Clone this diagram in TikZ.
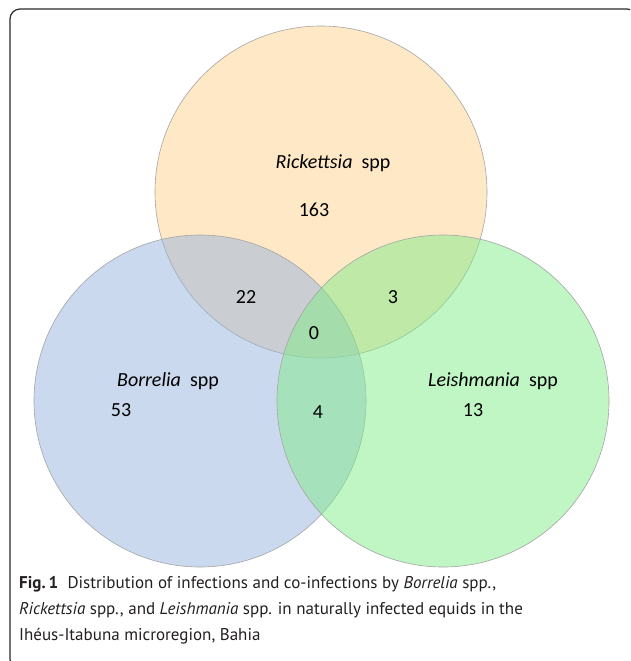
\documentclass[tikz,border=0pt]{standalone}
\usepackage{fontspec}
\setmainfont{Carlito}
\newfontfamily\capfont{PT Sans}
\usetikzlibrary{positioning}
\definecolor{rickfill}{RGB}{253,209,141}
\definecolor{borrfill}{RGB}{150,180,222}
\definecolor{leishfill}{RGB}{129,235,137}
\definecolor{setline}{HTML}{A4A4A4}
\definecolor{frameline}{HTML}{2A2A2A}
\definecolor{captext}{HTML}{231F20}

\begin{document}
\begin{tikzpicture}[
  x=1pt, y=-1pt,
  set/.style={circle, draw=setline, line width=0.6pt, fill opacity=0.5, inner sep=0pt, minimum size=332pt},
  lbl/.style={font=\fontsize{20}{24}\selectfont, text=black, inner sep=0pt},
  num/.style={font=\fontsize{20}{24}\selectfont, text=black, inner sep=0pt},
]
\useasboundingbox (0,0) rectangle (630,661);
\clip (0,0) rectangle (630,661);

% Frame
\draw[frameline, line width=1.2pt, rounded corners=10pt] (10,9) rectangle (637,669);

% Sets
\node[set, fill=rickfill] (rick) at (321,192) {};
\node[set, fill=borrfill] (borr) at (200,401) {};
\node[set, fill=leishfill] (leish) at (443,401) {};

% Labels
\node[lbl] (lrick) at (333,163) {\textit{Rickettsia}\ \ spp};
\node[lbl] (lborr) at (168,381) {\textit{Borrelia}\ \ spp};
\node[lbl] (lleish) at (493,381) {\textit{Leishmania}\ \ spp};

% Counts
\node[num] (n163) at (314,210) {163};
\node[num] (n53) at (121,410) {53};
\node[num] (n13) at (473,410) {13};
\node[num] (n22) at (246,297) {22};
\node[num] (n3) at (393,297) {3};
\node[num] (n0) at (314,333) {0};
\node[num] (n4) at (318,412) {4};

% Caption
\node[anchor=north west, align=left, inner sep=0pt, text=captext,
      font=\capfont\fontsize{17}{26}\selectfont] (caption) at (19,576)
  {\textbf{Fig.\,1}\hspace{0.55em}Distribution of infections and co-infections by \textit{Borrelia} spp.,\\
   \textit{Rickettsia} spp., and \textit{Leishmania} spp. in naturally infected equids in the\\
   Ihéus-Itabuna microregion, Bahia};

\end{tikzpicture}
\end{document}
